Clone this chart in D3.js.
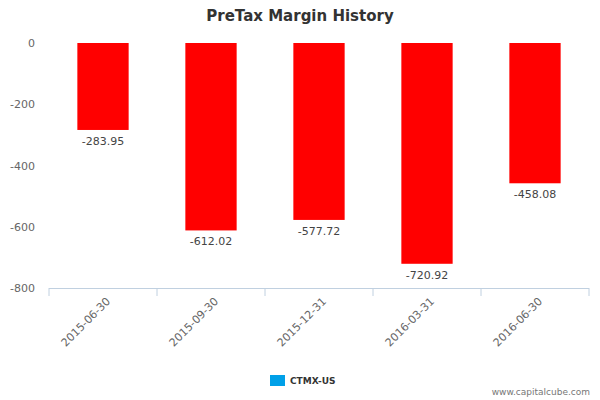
<!DOCTYPE html>
<html><head><meta charset="utf-8">
<script src="https://cdn.jsdelivr.net/npm/d3@7"></script>
<style>body{margin:0;background:#fff}text{font-family:"DejaVu Sans",sans-serif}</style>
</head><body><svg id="c" width="600" height="400"></svg>
<script>
const categories=["2015-06-30","2015-09-30","2015-12-31","2016-03-31","2016-06-30"];
const values=[-283.95,-612.02,-577.72,-720.92,-458.08];
const yTicks=[0,-200,-400,-600,-800];
const svg=d3.select("#c");
const L=49,R=589,T=43,B=288;
const x=d3.scaleBand().domain(categories).range([L,R]).paddingInner(0.525).paddingOuter(0.2625);
const y=d3.scaleLinear().domain([-800,0]).range([B,T]);
svg.append("text").attr("x",300).attr("y",21).attr("text-anchor","middle").attr("font-size",15).attr("font-weight","bold").attr("fill","#333").text("PreTax Margin History");
svg.selectAll(".yt").data(yTicks).enter().append("text").attr("x",35).attr("y",d=>y(d)+4).attr("text-anchor","end").attr("font-size",11).attr("fill","#666").text(d=>d);
svg.selectAll(".bar").data(values).enter().append("rect").attr("x",(d,i)=>x(categories[i])).attr("width",x.bandwidth()).attr("y",y(0)).attr("height",d=>y(d)-y(0)).attr("fill","#ff0000");
svg.selectAll(".vl").data(values).enter().append("text").attr("x",(d,i)=>x(categories[i])+x.bandwidth()/2).attr("y",d=>y(d)+15).attr("text-anchor","middle").attr("font-size",11).attr("fill","#444").text(d=>d.toFixed(2));
svg.append("line").attr("x1",L).attr("x2",R).attr("y1",B+0.5).attr("y2",B+0.5).attr("stroke","#C0D0E0");
const step=(R-L)/categories.length;
d3.range(categories.length+1).forEach(i=>svg.append("line").attr("x1",L+i*step).attr("x2",L+i*step).attr("y1",B).attr("y2",B+8).attr("stroke","#C0D0E0"));
svg.selectAll(".xl").data(categories).enter().append("text").attr("transform",d=>`translate(${x(d)+x.bandwidth()/2+8},${B+14}) rotate(-45)`).attr("text-anchor","end").attr("font-size",11).attr("fill","#666").text(d=>d);
svg.append("rect").attr("x",270).attr("y",375).attr("width",15).attr("height",11).attr("fill","#00A0E8");
svg.append("text").attr("x",290).attr("y",384).attr("font-size",9).attr("font-weight","bold").attr("fill","#333").text("CTMX-US");
svg.append("text").attr("x",590).attr("y",395).attr("text-anchor","end").attr("font-size",9).attr("fill","#777").text("www.capitalcube.com");
</script></body></html>
